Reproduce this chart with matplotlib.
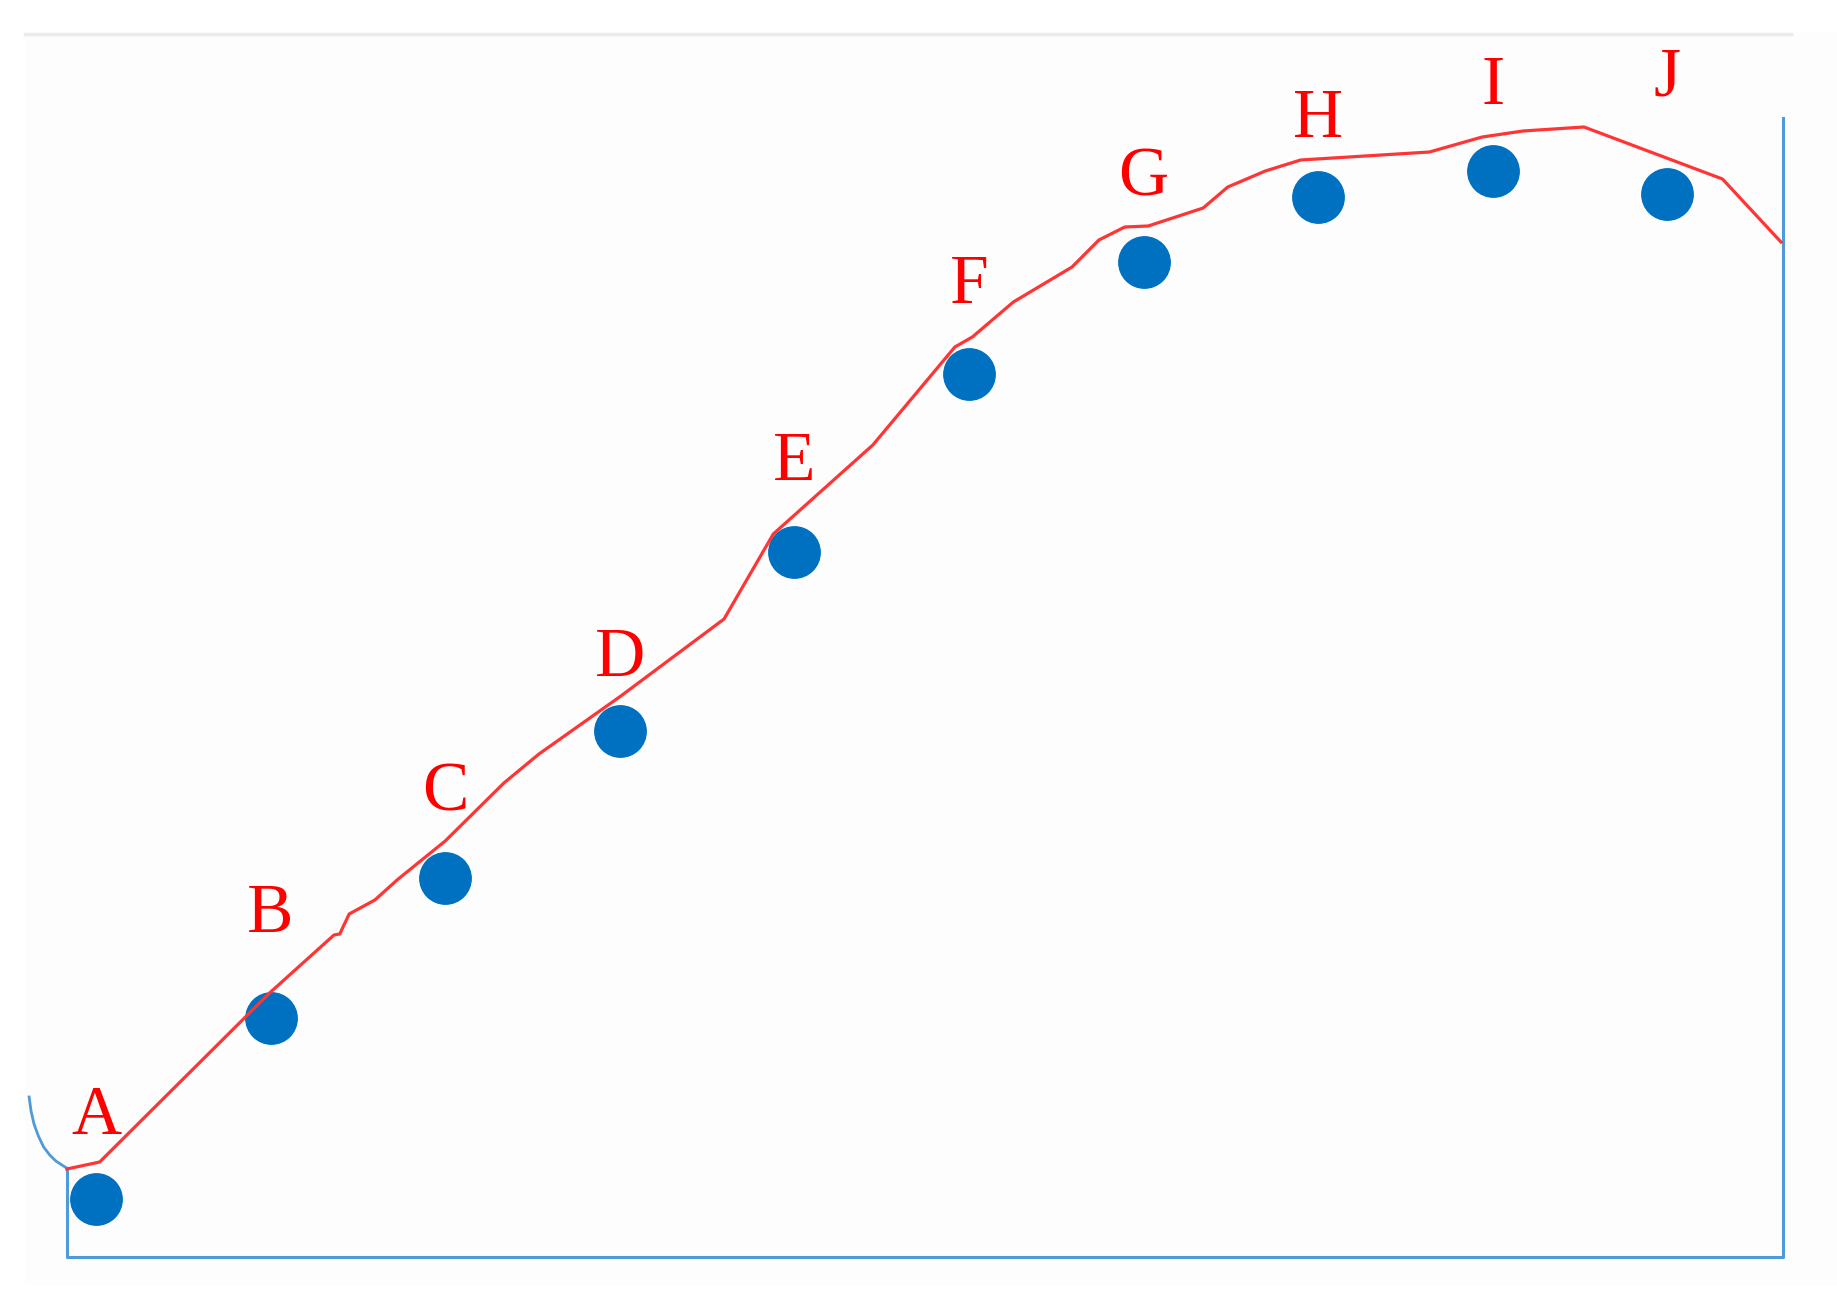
import matplotlib.pyplot as plt
from matplotlib.patches import Rectangle

# stage labels and their measured values (arbitrary units, axis base = 0)
labels = ["A", "B", "C", "D", "E", "F", "G", "H", "I", "J"]
point_x = [0, 1, 2, 3, 4, 5, 6, 7, 8, 9]
point_y = [5.8, 23.9, 37.9, 52.6, 70.5, 88.3, 99.5, 106.0, 108.6, 106.3]

# red trend curve
curve_x = [-0.167, 0.021, 0.994, 1.363, 1.396, 1.450, 1.597, 1.731, 2.000,
           2.336, 2.537, 3.006, 3.597, 3.879, 4.449, 4.919, 5.019, 5.254,
           5.590, 5.744, 5.892, 6.026, 6.341, 6.482, 6.697, 6.899, 7.637,
           7.939, 8.173, 8.522, 9.315, 9.650]
curve_y = [8.8, 9.5, 26.4, 32.2, 32.3, 34.3, 35.7, 37.8, 41.6,
           47.4, 50.3, 56.1, 63.8, 72.3, 81.2, 91.0, 92.0, 95.5,
           99.0, 101.7, 103.0, 103.1, 104.9, 107.0, 108.6, 109.7, 110.5,
           112.0, 112.6, 113.0, 107.8, 101.5]

# small blue stub on the left edge
stub_x = [-0.383, -0.372, -0.355, -0.330, -0.300, -0.265, -0.230, -0.195, -0.168]
stub_y = [16.0, 14.6, 13.3, 12.1, 11.0, 10.2, 9.6, 9.2, 8.9]

# label offsets above each point (points)
label_offset = [59, 74, 61, 52, 64, 63, 60, 55, 60, 83]

fig = plt.figure(figsize=(18.37, 13.10), dpi=100)
ax = fig.add_axes([0, 0, 1, 1])
ax.set_xlim(-0.5498, 9.971)
ax.set_ylim(-5.3, 125.7)
ax.axis("off")

# faint background panel and top rule
ax.add_patch(Rectangle((-0.407, -2.9), 10.64, 125.3, facecolor="#fdfdfd",
                       edgecolor="none", zorder=0))
ax.plot([-0.407, 9.71], [122.3, 122.3], color="#ebebeb", lw=2.5, zorder=1)

axis_blue = "#4f9ad8"
x_left, x_right = -0.167, 9.66
ax.plot([x_left, x_left, x_right, x_right], [8.9, 0, 0, 113.9],
        color=axis_blue, lw=2.2, zorder=2)
ax.plot(stub_x, stub_y, color=axis_blue, lw=2.0, zorder=2)

ax.plot(point_x, point_y, "o", color="#0070c0", markersize=37, zorder=3)
ax.plot(curve_x, curve_y, color="#ff3535", lw=2.3, zorder=4)

for x, y, lab, off in zip(point_x, point_y, labels, label_offset):
    ax.annotate(lab, (x, y), xytext=(0, off), textcoords="offset points",
                ha="center", va="center", color="red", fontsize=50,
                family="Liberation Serif")

fig.savefig("out.png", dpi=100, facecolor="white")
